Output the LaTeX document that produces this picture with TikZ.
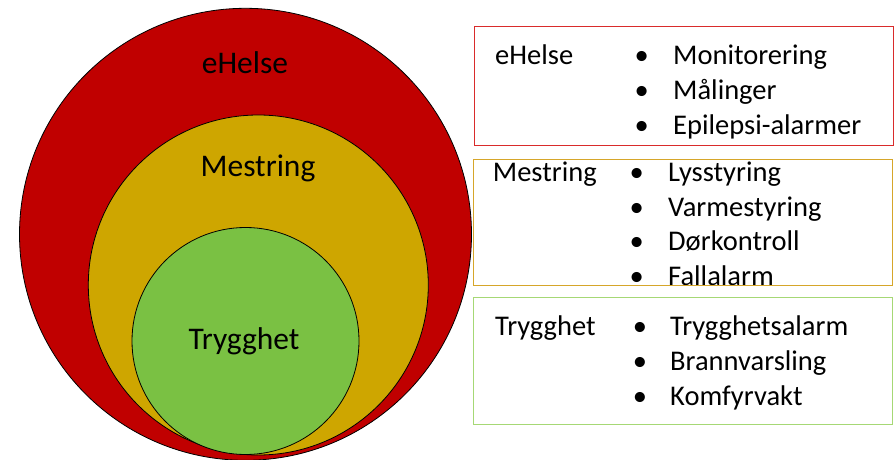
\documentclass[tikz,border=0pt]{standalone}
\usepackage{fontspec}
\setmainfont{Carlito}
\definecolor{ehred}{HTML}{C00000}
\definecolor{mgold}{HTML}{CEA600}
\definecolor{tgreen}{HTML}{7AC143}
\definecolor{boxred}{HTML}{D92B2B}
\definecolor{boxgold}{HTML}{D6A62A}
\definecolor{boxgreen}{HTML}{A6D875}
\tikzset{
  ring/.style={draw=black, line width=0.8pt},
  bigtext/.style={inner sep=0pt, anchor=base, font=\fontsize{31.5}{36}\selectfont},
  boxtext/.style={inner sep=0pt, anchor=base west, font=\fontsize{28.5}{34}\selectfont},
  bul/.style={inner sep=0pt, anchor=base, font=\fontsize{28.5}{34}\selectfont},
  catbox/.style={draw, line width=1pt}
}
\begin{document}
\begin{tikzpicture}[x=1pt,y=-1pt]
\useasboundingbox (0,0) rectangle (895,460);
% circles
\fill[ehred] (245.5,234.3) circle (226);
\draw[ring] (245.5,234.3) circle (226);
\fill[mgold] (258.3,285) circle (170);
\draw[ring] (258.3,285) circle (170);
\fill[tgreen] (245.5,341) circle (113.5);
\draw[ring] (245.5,341) circle (113.5);
\node[bigtext] (ce) at (245,73.3) {eHelse};
\node[bigtext] (cm) at (258,176.7) {Mestring};
\node[bigtext] (ct) at (244,349.3) {Trygghet};
% eHelse box
\node[boxtext] (le) at (495,65) {eHelse};
\node[bul] (b1) at (641.7,65) {•};
\node[bul] (b2) at (641.7,99.5) {•};
\node[bul] (b3) at (641.7,134) {•};
\node[boxtext] (e1) at (673,65) {Monitorering};
\node[boxtext] (e2) at (673,99.5) {Målinger};
\node[boxtext] (e3) at (673,134) {Epilepsi-alarmer};
\draw[catbox, boxred] (474,27) rectangle (893,145);
% Mestring box
\node[boxtext] (lm) at (492.7,181.7) {Mestring};
\node[bul] (b4) at (636.7,181.7) {•};
\node[bul] (b5) at (636.7,216) {•};
\node[bul] (b6) at (636.7,250.7) {•};
\node[bul] (b7) at (636.7,285.7) {•};
\node[boxtext] (m1) at (668,181.7) {Lysstyring};
\node[boxtext] (m2) at (668,216) {Varmestyring};
\node[boxtext] (m3) at (668,250.7) {Dørkontroll};
\node[boxtext] (m4) at (668,285.7) {Fallalarm};
\draw[catbox, boxgold] (473,159.5) rectangle (892,285);
% Trygghet box
\node[boxtext] (lt) at (495,335) {Trygghet};
\node[bul] (b8) at (640,335) {•};
\node[bul] (b9) at (640,370) {•};
\node[bul] (b10) at (640,405) {•};
\node[boxtext] (t1) at (670,335) {Trygghetsalarm};
\node[boxtext] (t2) at (670,370) {Brannvarsling};
\node[boxtext] (t3) at (670,405) {Komfyrvakt};
\draw[catbox, boxgreen] (473,297.5) rectangle (892,424);
\end{tikzpicture}
\end{document}
